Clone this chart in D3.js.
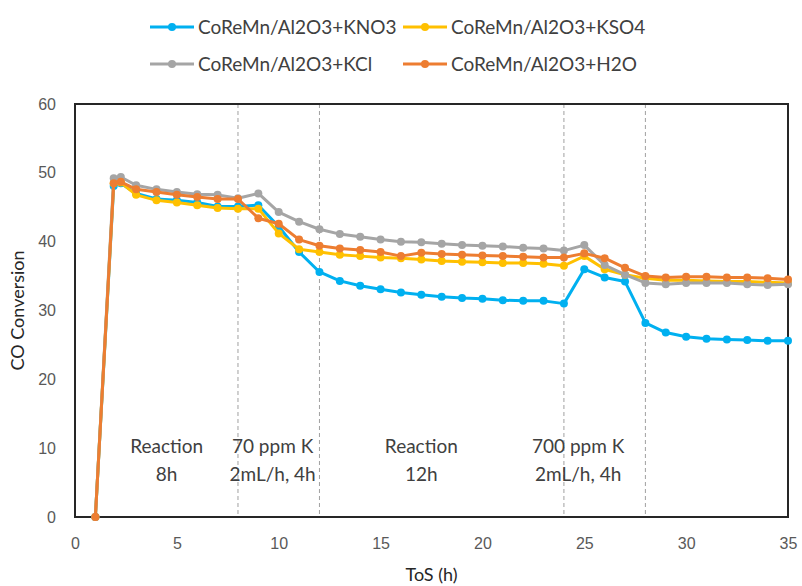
<!DOCTYPE html>
<html>
<head>
<meta charset="utf-8">
<script src="https://cdn.jsdelivr.net/npm/d3@7"></script>
<style>
  body { margin: 0; background: #fff; }
  svg { font-family: Lato, "Noto Sans", sans-serif; }
</style>
</head>
<body>
<svg id="chart" width="802" height="586"></svg>
<script>
// hours on stream
const hours = [1, 1.9, 2.25, 3, 4, 5, 6, 7, 8, 9, 10, 11, 12, 13, 14, 15, 16, 17, 18, 19, 20,
  21, 22, 23, 24, 25, 26, 27, 28, 29, 30, 31, 32, 33, 34, 35];

const kno3 = [0, 48.1, 48.5, 47.0, 46.2, 46.0, 45.7, 45.1, 45.1, 45.3, 42.2, 38.5, 35.6, 34.3, 33.6,
  33.1, 32.6, 32.3, 32.0, 31.8, 31.7, 31.5, 31.4, 31.4, 31.0, 36.0, 34.8, 34.2, 28.2, 26.8, 26.2,
  25.9, 25.8, 25.7, 25.6, 25.6];
const kso4 = [0, 48.5, 48.6, 46.8, 46.0, 45.7, 45.3, 44.9, 44.8, 44.8, 41.2, 38.9, 38.5, 38.1, 37.9,
  37.7, 37.6, 37.4, 37.2, 37.1, 37.0, 36.9, 36.9, 36.8, 36.5, 37.9, 36.0, 35.2, 34.7, 34.4, 34.4,
  34.3, 34.2, 34.2, 34.1, 34.0];
const kcl = [0, 49.2, 49.4, 48.2, 47.6, 47.2, 46.9, 46.8, 46.3, 47.0, 44.3, 42.9, 41.8, 41.1, 40.7,
  40.3, 40.0, 39.9, 39.7, 39.5, 39.4, 39.3, 39.1, 39.0, 38.7, 39.5, 36.6, 35.2, 34.0, 33.8, 34.0,
  34.0, 34.0, 33.8, 33.7, 33.8];
const h2o = [0, 48.5, 48.7, 47.6, 47.2, 46.8, 46.5, 46.2, 46.2, 43.4, 42.6, 40.3, 39.4, 39.0, 38.8,
  38.5, 37.9, 38.4, 38.2, 38.1, 38.0, 37.9, 37.8, 37.7, 37.7, 38.3, 37.6, 36.2, 35.0, 34.8, 34.9,
  34.9, 34.8, 34.8, 34.7, 34.5];

const seriesNames = ["CoReMn/Al2O3+KNO3", "CoReMn/Al2O3+KSO4", "CoReMn/Al2O3+KCl", "CoReMn/Al2O3+H2O"];
const seriesColors = ["#00b0f0", "#ffc000", "#a5a5a5", "#ed7d31"];

const xTicks = [0, 5, 10, 15, 20, 25, 30, 35];
const yTicks = [0, 10, 20, 30, 40, 50, 60];
const stageLines = [8, 12, 24, 28];
const stageLabels = [
  { x: 4.5, lines: ["Reaction", "8h"] },
  { x: 9.7, lines: ["70 ppm K", "2mL/h, 4h"] },
  { x: 17, lines: ["Reaction", "12h"] },
  { x: 24.7, lines: ["700 ppm K", "2mL/h, 4h"] }
];

const svg = d3.select("#chart");
const margin = { left: 75, right: 14, top: 104, bottom: 69 };
const W = 802, H = 586;

const x = d3.scaleLinear().domain([0, 35]).range([margin.left, W - margin.right]);
const y = d3.scaleLinear().domain([0, 60]).range([H - margin.bottom, margin.top]);

// axes (labels only, frame drawn separately)
svg.append("g")
  .attr("transform", `translate(${margin.left - 16},0)`)
  .call(d3.axisLeft(y).tickValues(yTicks).tickSize(0))
  .call(g => g.select(".domain").remove())
  .selectAll("text").attr("fill", "#595959").attr("font-size", 16);

svg.append("g")
  .attr("transform", `translate(0,${H - margin.bottom + 18})`)
  .call(d3.axisBottom(x).tickValues(xTicks).tickSize(0))
  .call(g => g.select(".domain").remove())
  .selectAll("text").attr("fill", "#595959").attr("font-size", 16);

// stage dividers
svg.append("g").selectAll("line")
  .data(stageLines)
  .enter().append("line")
  .attr("x1", d => x(d)).attr("x2", d => x(d))
  .attr("y1", y(60)).attr("y2", y(0))
  .attr("stroke", "#a0a0a0").attr("stroke-width", 1)
  .attr("stroke-dasharray", "4,3");

// stage labels
const lab = svg.append("g").selectAll("text")
  .data(stageLabels)
  .enter().append("text")
  .attr("text-anchor", "middle")
  .attr("fill", "#404040")
  .attr("font-size", 19);
lab.each(function (d) {
  d3.select(this).selectAll("tspan")
    .data(d.lines)
    .enter().append("tspan")
    .attr("x", x(d.x))
    .attr("y", (t, i) => y(10.2) + 6 + i * 28)
    .text(t => t);
});

// plot frame
svg.append("rect")
  .attr("x", x(0)).attr("y", y(60))
  .attr("width", x(35) - x(0)).attr("height", y(0) - y(60))
  .attr("fill", "none").attr("stroke", "#262626").attr("stroke-width", 2);

// series
const allSeries = [kno3, kso4, kcl, h2o];
const line = d3.line().x(d => x(d[0])).y(d => y(d[1]));

allSeries.forEach((vals, i) => {
  const pts = hours.map((h, j) => [h, vals[j]]);
  const g = svg.append("g");
  g.append("path")
    .attr("d", line(pts))
    .attr("fill", "none")
    .attr("stroke", seriesColors[i])
    .attr("stroke-width", 3)
    .attr("stroke-linejoin", "round");
  g.selectAll("circle")
    .data(pts)
    .enter().append("circle")
    .attr("cx", d => x(d[0])).attr("cy", d => y(d[1]))
    .attr("r", 4)
    .attr("fill", seriesColors[i]);
});

// axis titles
svg.append("text")
  .attr("x", (x(0) + x(35)) / 2).attr("y", 581)
  .attr("text-anchor", "middle").attr("fill", "#262626").attr("font-size", 18)
  .text("ToS (h)");
svg.append("text")
  .attr("transform", `translate(24,${(y(0) + y(60)) / 2}) rotate(-90)`)
  .attr("text-anchor", "middle").attr("fill", "#262626").attr("font-size", 18)
  .text("CO Conversion");

// legend
const legendPos = [[150, 27], [403, 27], [150, 64], [403, 64]];
const legend = svg.append("g").selectAll("g")
  .data(seriesNames)
  .enter().append("g")
  .attr("transform", (d, i) => `translate(${legendPos[i][0]},${legendPos[i][1]})`);
legend.append("line")
  .attr("x1", 0).attr("x2", 44)
  .attr("stroke", (d, i) => seriesColors[i]).attr("stroke-width", 3);
legend.append("circle")
  .attr("cx", 22).attr("r", 4)
  .attr("fill", (d, i) => seriesColors[i]);
legend.append("text")
  .attr("x", 48).attr("dy", "0.35em")
  .attr("fill", "#404040").attr("font-size", 19)
  .text(d => d);
</script>
</body>
</html>
